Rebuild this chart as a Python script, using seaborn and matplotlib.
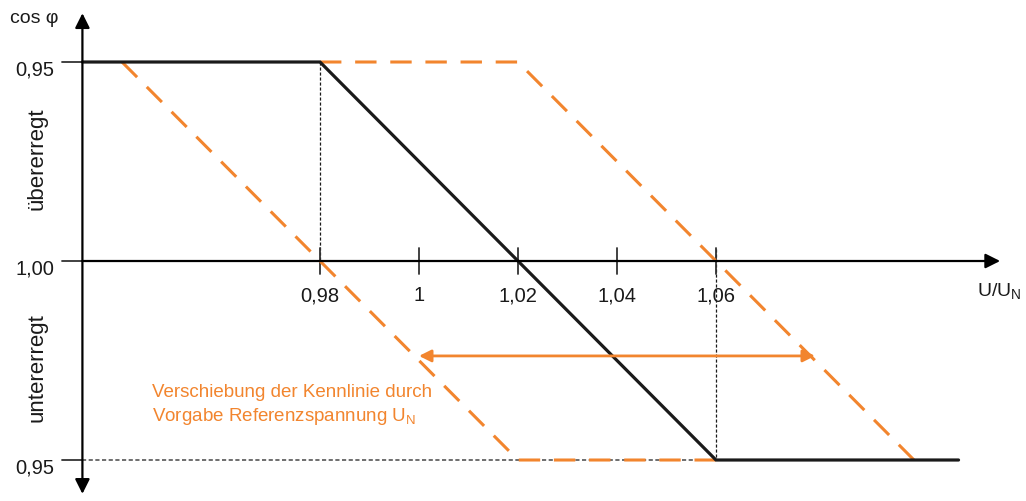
import matplotlib
matplotlib.use("Agg")
import matplotlib.pyplot as plt
import seaborn as sns
import pandas as pd

# Kennlinie cos phi (U/UN): +1 = 0,95 übererregt, 0 = 1,00, -1 = 0,95 untererregt
x_ticks = [0.98, 1.00, 1.02, 1.04, 1.06]
x_tick_labels = ["0,98", "1", "1,02", "1,04", "1,06"]
y_ticks = [1, 0, -1]
y_tick_labels = ["0,95", "1,00", "0,95"]

kennlinie_u = [0.932, 0.98, 1.06, 1.109]
kennlinie_q = [1, 1, -1, -1]
links_u = [0.94, 1.02, 1.06]
links_q = [1, -1, -1]
rechts_u = [0.98, 1.02, 1.10]
rechts_q = [1, 1, -1]
verschiebung_u = [1.00, 1.08]
verschiebung_q = -0.477

orange = "#F2852E"
dunkel = "#1a1a1a"

sns.set_style("white")
plt.rcParams["font.family"] = ["Liberation Sans", "DejaVu Sans"]
plt.rcParams["mathtext.fontset"] = "custom"
plt.rcParams["mathtext.rm"] = "Liberation Sans"

fig = plt.figure(figsize=(10.26, 5.02), dpi=100)
ax = fig.add_axes([0, 0, 1, 1])

x0 = kennlinie_u[0]  # Lage der senkrechten Achse

# Hilfslinien
ax.plot([0.98, 0.98], [1, 0], color=dunkel, lw=0.9, ls=(0, (2.5, 1.5)))
ax.plot([1.06, 1.06], [0.06, -1], color=dunkel, lw=0.9, ls=(0, (2.5, 1.5)))
ax.plot([x0, 1.06], [-1, -1], color="#555555", lw=1.2, ls=(0, (2.5, 1.5)))

# Achsen mit Pfeilen
ax.annotate("", xy=(1.1174, 0), xytext=(x0, 0),
            arrowprops=dict(arrowstyle="-|>", color="black", lw=1.6,
                            mutation_scale=22, shrinkA=0, shrinkB=0))
ax.annotate("", xy=(x0, 1.245), xytext=(x0, -1.17),
            arrowprops=dict(arrowstyle="<|-|>", color="black", lw=1.6,
                            mutation_scale=22, shrinkA=0, shrinkB=0))

for xt, lab in zip(x_ticks, x_tick_labels):
    ax.plot([xt, xt], [0.065, -0.065], color="#333333", lw=1.3)
    ax.text(xt, -0.17, lab, ha="center", va="center", fontsize=14.5, color=dunkel)
for yt, lab in zip(y_ticks, y_tick_labels):
    ax.plot([0.9279, x0], [yt, yt], color="#333333", lw=1.3)
    ax.text(0.9264, yt - 0.035, lab, ha="right", va="center", fontsize=14.5, color=dunkel)

# Kennlinien
df_k = pd.DataFrame({"u": kennlinie_u, "q": kennlinie_q})
df_l = pd.DataFrame({"u": links_u, "q": links_q})
df_r = pd.DataFrame({"u": rechts_u, "q": rechts_q})
sns.lineplot(data=df_l, x="u", y="q", ax=ax, color=orange, lw=2.2,
             estimator=None, sort=False).lines[-1].set_dashes((7, 4.5))
sns.lineplot(data=df_r, x="u", y="q", ax=ax, color=orange, lw=2.2,
             estimator=None, sort=False).lines[-1].set_dashes((7, 4.5))
sns.lineplot(data=df_k, x="u", y="q", ax=ax, color=dunkel, lw=2.3,
             estimator=None, sort=False)
ax.set_xlim(0.91535, 1.12263)
ax.set_ylim(-1.206, 1.3166)
ax.axis("off")

# Verschiebungspfeil
ax.annotate("", xy=(verschiebung_u[1], verschiebung_q),
            xytext=(verschiebung_u[0], verschiebung_q),
            arrowprops=dict(arrowstyle="<|-|>", color=orange, lw=2,
                            mutation_scale=18, shrinkA=0, shrinkB=0))

# Beschriftungen
ax.text(0.9174, 1.225, "cos φ", ha="left", va="center", fontsize=14, color=dunkel)
ax.text(1.1218, -0.15, r"U/U$_\mathrm{N}$", ha="right", va="center", fontsize=14, color=dunkel)
ax.text(0.9228, 0.52, "übererregt", rotation=90, ha="center", va="center",
        fontsize=16, color=dunkel)
ax.text(0.9228, -0.53, "untererregt", rotation=90, ha="center", va="center",
        fontsize=16, color=dunkel)
ax.text(0.9461, -0.658, "Verschiebung der Kennlinie durch", ha="left", va="center",
        fontsize=13.5, color=orange)
ax.text(0.9461, -0.778, r"Vorgabe Referenzspannung U$_\mathrm{N}$", ha="left", va="center",
        fontsize=13.5, color=orange)

fig.savefig("out.png", dpi=100)
